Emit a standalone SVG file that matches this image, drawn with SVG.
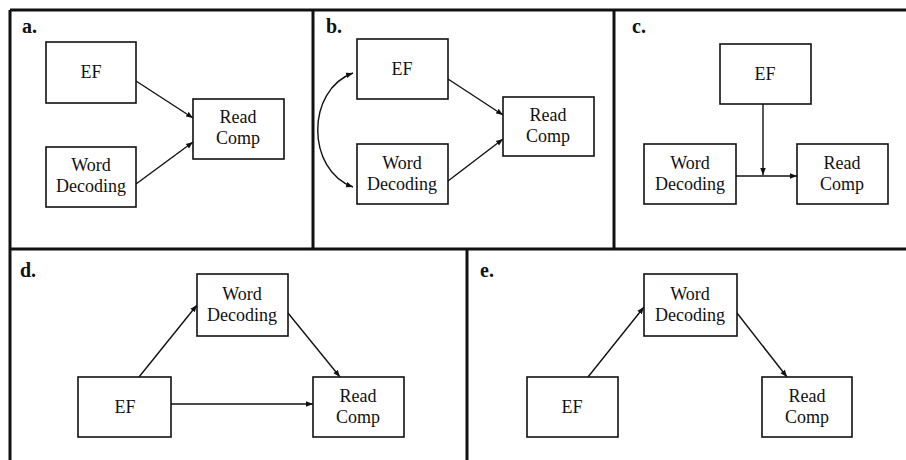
<svg xmlns="http://www.w3.org/2000/svg" width="906" height="460" viewBox="0 0 906 460">
<style>
.frame{fill:none;stroke:#111;stroke-width:3}
.box{fill:#fff;stroke:#111;stroke-width:1.6}
.t{font-family:"Liberation Serif","Times New Roman",serif;font-size:18px;fill:#111;text-anchor:middle}
.lbl{font-family:"Liberation Serif","Times New Roman",serif;font-size:20px;font-weight:bold;fill:#111}
.c{fill:none;stroke:#111;stroke-width:1.4}
</style>
<defs>
<marker id="ah" viewBox="0 0 10 10" refX="10" refY="5" markerWidth="7" markerHeight="7" orient="auto-start-reverse" markerUnits="userSpaceOnUse">
<path d="M0,1 L10,5 L0,9 z" fill="#111"/>
</marker>
</defs>
<rect width="906" height="460" fill="#fff"/>
<g id="frames">
<line class="frame" x1="10" y1="10" x2="906" y2="10"/>
<line class="frame" x1="10" y1="249" x2="906" y2="249"/>
<line class="frame" x1="10" y1="10" x2="10" y2="460"/>
<line class="frame" x1="313" y1="10" x2="313" y2="249"/>
<line class="frame" x1="614" y1="10" x2="614" y2="249"/>
<line class="frame" x1="467" y1="249" x2="467" y2="460"/>
</g>
<g id="labels">
<text class="lbl" x="22" y="33">a.</text>
<text class="lbl" x="326" y="33">b.</text>
<text class="lbl" x="632" y="33">c.</text>
<text class="lbl" x="20" y="277">d.</text>
<text class="lbl" x="480" y="277">e.</text>
</g>
<g id="connectors">
<line class="c" x1="136" y1="81" x2="193" y2="118" marker-end="url(#ah)"/>
<line class="c" x1="136" y1="184" x2="193" y2="142" marker-end="url(#ah)"/>
<line class="c" x1="448" y1="79" x2="503" y2="115" marker-end="url(#ah)"/>
<line class="c" x1="448" y1="181" x2="503" y2="139" marker-end="url(#ah)"/>
<path class="c" d="M353,73 C306,90 306,170 353,187" marker-start="url(#ah)" marker-end="url(#ah)"/>
<line class="c" x1="736" y1="176" x2="797" y2="176" marker-end="url(#ah)"/>
<line class="c" x1="763" y1="104" x2="763" y2="175" marker-end="url(#ah)"/>
<line class="c" x1="139" y1="377" x2="197" y2="305" marker-end="url(#ah)"/>
<line class="c" x1="288" y1="313" x2="340" y2="377" marker-end="url(#ah)"/>
<line class="c" x1="171" y1="404" x2="313" y2="404" marker-end="url(#ah)"/>
<line class="c" x1="588" y1="377" x2="644" y2="307" marker-end="url(#ah)"/>
<line class="c" x1="737" y1="313" x2="787" y2="377" marker-end="url(#ah)"/>
</g>
<g id="a-ef"><rect class="box" x="46" y="42" width="90" height="61"/><text class="t" x="91" y="78">EF</text></g>
<g id="a-wd"><rect class="box" x="46" y="147" width="90" height="60"/><text class="t" x="91" y="171">Word</text><text class="t" x="91" y="192">Decoding</text></g>
<g id="a-rc"><rect class="box" x="193" y="99" width="91" height="60"/><text class="t" x="238" y="123">Read</text><text class="t" x="238" y="144">Comp</text></g>
<g id="b-ef"><rect class="box" x="357" y="39" width="91" height="60"/><text class="t" x="402" y="75">EF</text></g>
<g id="b-wd"><rect class="box" x="357" y="144" width="91" height="60"/><text class="t" x="402" y="169">Word</text><text class="t" x="402" y="190">Decoding</text></g>
<g id="b-rc"><rect class="box" x="503" y="97" width="91" height="59"/><text class="t" x="548" y="121">Read</text><text class="t" x="548" y="142">Comp</text></g>
<g id="c-ef"><rect class="box" x="720" y="44" width="91" height="60"/><text class="t" x="765" y="80">EF</text></g>
<g id="c-wd"><rect class="box" x="644" y="144" width="92" height="60"/><text class="t" x="690" y="169">Word</text><text class="t" x="690" y="190">Decoding</text></g>
<g id="c-rc"><rect class="box" x="797" y="144" width="91" height="60"/><text class="t" x="842" y="169">Read</text><text class="t" x="842" y="190">Comp</text></g>
<g id="d-wd"><rect class="box" x="197" y="274" width="91" height="62"/><text class="t" x="242" y="300">Word</text><text class="t" x="242" y="321">Decoding</text></g>
<g id="d-ef"><rect class="box" x="78" y="377" width="93" height="60"/><text class="t" x="125" y="413">EF</text></g>
<g id="d-rc"><rect class="box" x="313" y="377" width="91" height="60"/><text class="t" x="358" y="402">Read</text><text class="t" x="358" y="423">Comp</text></g>
<g id="e-wd"><rect class="box" x="644" y="274" width="93" height="62"/><text class="t" x="690" y="300">Word</text><text class="t" x="690" y="321">Decoding</text></g>
<g id="e-ef"><rect class="box" x="527" y="377" width="91" height="60"/><text class="t" x="572" y="413">EF</text></g>
<g id="e-rc"><rect class="box" x="762" y="377" width="90" height="60"/><text class="t" x="807" y="402">Read</text><text class="t" x="807" y="423">Comp</text></g>
</svg>
